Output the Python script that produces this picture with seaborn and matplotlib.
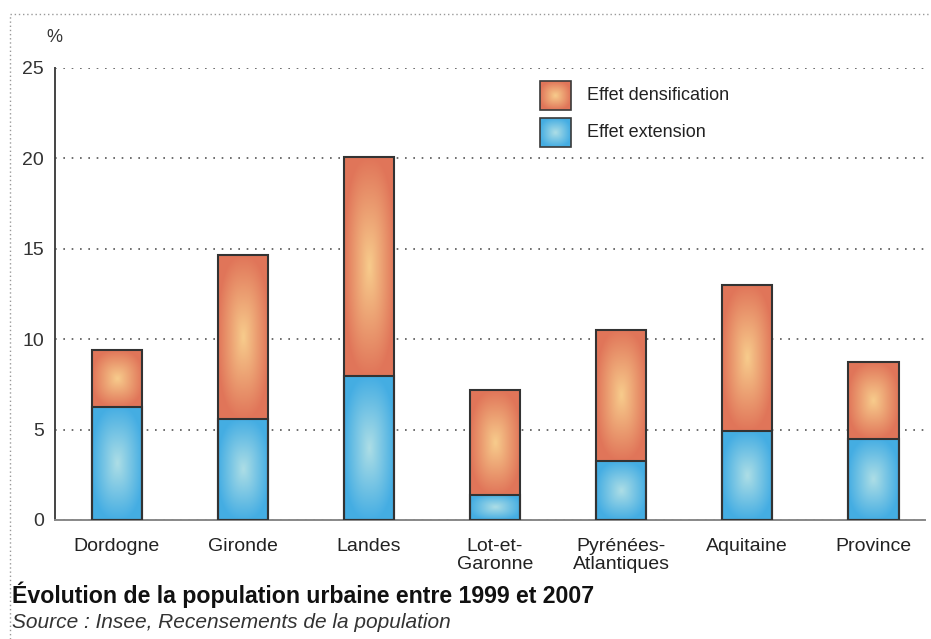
import numpy as np
import pandas as pd
import matplotlib
matplotlib.use("Agg")
import matplotlib.pyplot as plt
from matplotlib.patches import Rectangle
from matplotlib.lines import Line2D
import seaborn as sns

# data (%)
regions = ["Dordogne", "Gironde", "Landes", "Lot-et-\nGaronne",
           "Pyrénées-\nAtlantiques", "Aquitaine", "Province"]
extension = [6.25, 5.6, 7.95, 1.4, 3.25, 4.9, 4.5]
densification = [3.15, 9.05, 12.1, 5.8, 7.25, 8.1, 4.25]
total = [e + d for e, d in zip(extension, densification)]

df = pd.DataFrame({"region": regions, "extension": extension, "total": total})

sns.set_style("white")
plt.rcParams['font.family'] = ['Liberation Sans', 'DejaVu Sans']

ORANGE_EDGE, ORANGE_MID = np.array([0.88, 0.46, 0.35]), np.array([0.97, 0.80, 0.55])
BLUE_EDGE, BLUE_MID = np.array([0.27, 0.68, 0.89]), np.array([0.68, 0.87, 0.90])


def gradient(c_mid, c_edge, n=120):
    u = np.linspace(-1, 1, n)
    U, V = np.meshgrid(u, u)
    d = np.clip((np.abs(U) ** 2.5 + np.abs(V) ** 2.5) ** (1 / 2.5), 0, 1)
    return c_mid + (c_edge - c_mid) * d[..., None]


fig = plt.figure(figsize=(9.31, 6.39), dpi=100)
ax = fig.add_axes([55/931, 1-520/639, 870/931, 452/639])

width = 0.4
sns.barplot(data=df, x="region", y="total", color="white", width=width,
            edgecolor="#333333", linewidth=1.5, ax=ax)
n_or = len(ax.patches)
sns.barplot(data=df, x="region", y="extension", color="white", width=width,
            edgecolor="#333333", linewidth=1.5, ax=ax)

g_or = gradient(ORANGE_MID, ORANGE_EDGE)
g_bl = gradient(BLUE_MID, BLUE_EDGE)
for i, p in enumerate(ax.patches):
    p.set_facecolor("none")
    p.set_zorder(4)
    x0, w = p.get_x(), p.get_width()
    if i < n_or:
        ax.imshow(g_or, extent=[x0, x0 + w, extension[i], total[i]],
                  aspect="auto", zorder=3, interpolation="bilinear")
    else:
        k = i - n_or
        ax.imshow(g_bl, extent=[x0, x0 + w, 0, extension[k]],
                  aspect="auto", zorder=3, interpolation="bilinear")

ax.set_yticks([0, 5, 10, 15, 20, 25])
ax.set_xlabel("")
ax.set_ylabel("")
ax.grid(axis="y", linestyle=(0, (1, 4)), color="#555555", linewidth=1.2)
ax.set_axisbelow(True)
for s in ["top", "right"]:
    ax.spines[s].set_visible(False)
ax.spines["left"].set_color("#444444")
ax.spines["left"].set_linewidth(1.4)
ax.spines["bottom"].set_color("#888888")
ax.spines["bottom"].set_linewidth(1.4)
ax.tick_params(axis="y", length=0, pad=8, labelsize=14, colors="#333333")
ax.tick_params(axis="x", length=0, pad=13, labelsize=14, colors="#222222")
for lab in ax.get_xticklabels():
    lab.set_linespacing(1.05)

# legend
leg = [("Effet densification", g_or, 0.907), ("Effet extension", g_bl, 0.825)]
for name, g, yb in leg:
    x0, w, h = 0.5575, 0.0356, 0.064
    ax.imshow(g, extent=[x0, x0 + w, yb, yb + h], transform=ax.transAxes,
              aspect="auto", zorder=5, interpolation="bilinear")
    ax.add_patch(Rectangle((x0, yb), w, h, transform=ax.transAxes, fill=False,
                           edgecolor="#3a3a3a", linewidth=1.2, zorder=6))
    ax.text(0.6115, yb + h / 2, name, transform=ax.transAxes, va="center",
            ha="left", fontsize=13, color="#222222", zorder=6)
ax.set_xlim(-0.49, 6.41)
ax.set_ylim(0, 25)

fig.text(54/931, 1-37/639, "%", ha="center", va="center", fontsize=13, color="#333333")
fig.text(12/931, 1-595/639, "Évolution de la population urbaine entre 1999 et 2007",
         ha="left", va="center", fontsize=16.7, fontweight="bold", color="#111111")
fig.text(12/931, 1-623/639, "Source : Insee, Recensements de la population",
         ha="left", va="center", fontsize=15, style="italic", color="#333333")

# dotted frame
fig.add_artist(Line2D([10/931, 10/931], [0, 1-14/639], transform=fig.transFigure,
                      linestyle=(0, (1, 2)), color="#999999", linewidth=1))
fig.add_artist(Line2D([10/931, 1], [1-14/639, 1-14/639], transform=fig.transFigure,
                      linestyle=(0, (1, 2)), color="#999999", linewidth=1))

fig.savefig("out.png", dpi=100)
